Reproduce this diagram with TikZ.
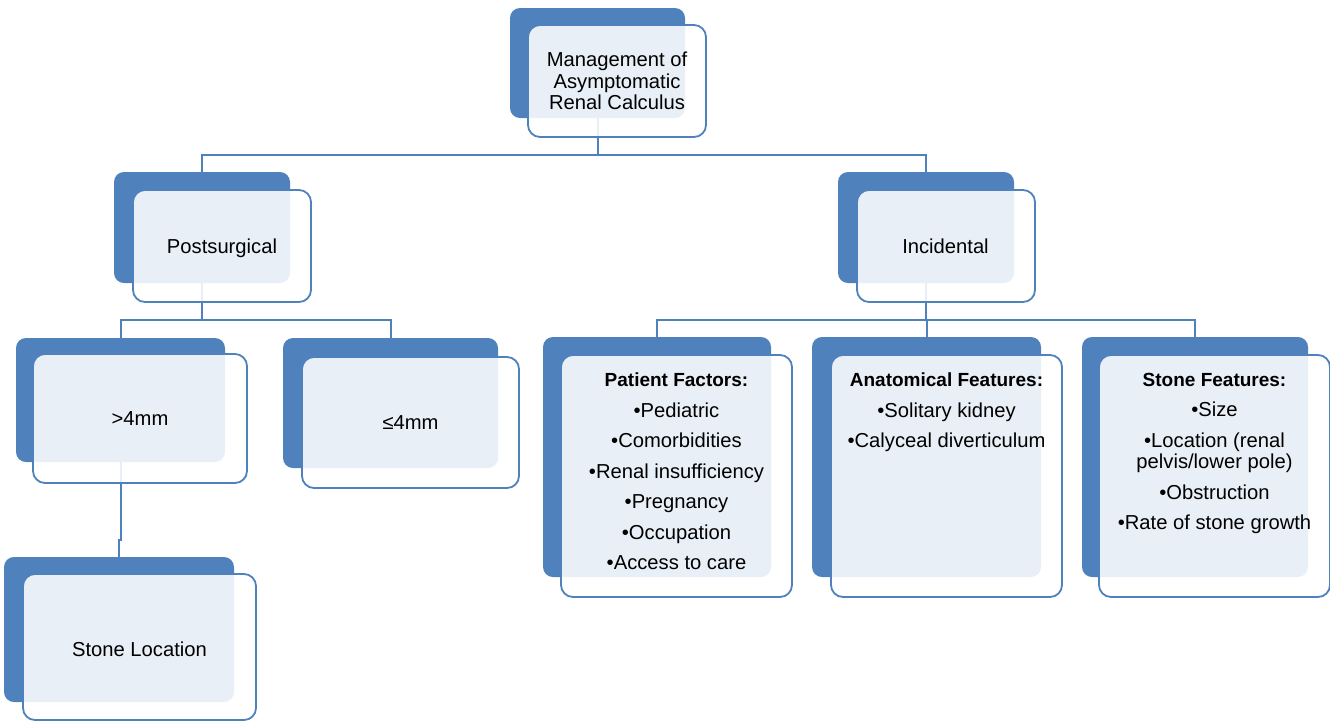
\documentclass[tikz,border=0pt]{standalone}
\usepackage{fontspec}
\setmainfont{Liberation Sans}
\usetikzlibrary{backgrounds}
\definecolor{blueC}{HTML}{4F81BD}
\newcommand\hd[1]{{\fontsize{19}{21.5}\selectfont\bfseries #1}}
\begin{document}
\begin{tikzpicture}[x=1pt,y=-1pt,
  back/.style={fill=blueC, rounded corners=10pt, inner sep=0pt, outer sep=0pt, anchor=north west},
  front/.style={draw=blueC, line width=1.8pt, fill=white, fill opacity=0.88, rounded corners=12pt, inner sep=0pt, outer sep=0pt, anchor=north west},
  conn/.style={draw=blueC, line width=2pt},
  lbl/.style={font=\fontsize{20.2}{21.5}\selectfont, text height=14.5pt, text depth=0pt, inner sep=0pt},
  multi/.style={font=\fontsize{20.2}{21.5}\selectfont, align=center, inner sep=0pt, anchor=north}]
\useasboundingbox (0,0) rectangle (1330,721);

% back boxes
\node[back, minimum width=175pt, minimum height=110pt] (tb) at (510,8) {};
\node[back, minimum width=176pt, minimum height=111pt] (pb) at (114,172) {};
\node[back, minimum width=176pt, minimum height=111pt] (ib) at (838,172) {};
\node[back, minimum width=209pt, minimum height=124pt] (gb1) at (16,338) {};
\node[back, minimum width=215pt, minimum height=130pt] (gb2) at (283,338) {};
\node[back, minimum width=230pt, minimum height=145pt] (sb) at (4,557) {};
\node[back, minimum width=228pt, minimum height=240pt] (ptb) at (543,337) {};
\node[back, minimum width=229pt, minimum height=240pt] (anb) at (812,337) {};
\node[back, minimum width=226pt, minimum height=240pt] (sfb) at (1082,337) {};

% front boxes
\node[front, minimum width=178pt, minimum height=112pt] (tf) at (528,25) {};
\node[front, minimum width=178pt, minimum height=112pt] (pf) at (133,190) {};
\node[front, minimum width=178pt, minimum height=112pt] (if) at (857,190) {};
\node[front, minimum width=214pt, minimum height=129pt] (gf1) at (33,354) {};
\node[front, minimum width=217pt, minimum height=131pt] (gf2) at (302,357) {};
\node[front, minimum width=233pt, minimum height=146pt] (sf) at (23,574) {};
\node[front, minimum width=231pt, minimum height=242pt] (ptf) at (561,355) {};
\node[front, minimum width=231pt, minimum height=242pt] (anf) at (831,355) {};
\node[front, minimum width=231pt, minimum height=242pt] (sff) at (1099,355) {};

% connectors
\begin{scope}[on background layer]
\draw[conn] (tb.south) -- ++(0,36.5) -| (pb.north);
\draw[conn] (tb.south) -- ++(0,36.5) -| (ib.north);
\draw[conn] (pb.south) -- ++(0,37) -| (gb1.north);
\draw[conn] (pb.south) -- ++(0,37) -| (gb2.north);
\draw[conn] (ib.south) -- ++(0,37) -| (ptb.north);
\draw[conn] (ib.south) -- ++(0,37) -| (anb.north);
\draw[conn] (ib.south) -- ++(0,37) -| (sfb.north);
\draw[conn] (gb1.south) -- ++(0,78) -| (sb.north);
\end{scope}

% texts
\node[multi, anchor=center] (tt) at (617,81) {Management of\\Asymptomatic\\Renal Calculus};
\node[lbl] (pt) at (222,246) {Postsurgical};
\node[lbl] (it) at (945.5,246) {Incidental};
\node[lbl] (gt1) at (140,418.5) {>4mm};
\node[lbl] (gt2) at (410.5,422.5) {≤4mm};
\node[lbl] (st) at (139.5,649) {Stone Location};
\node[multi] (ptt) at (676.5,373) {\hd{Patient Factors:}\\[9pt]•Pediatric\\[9pt]•Comorbidities\\[9pt]•Renal insufficiency\\[9pt]•Pregnancy\\[9pt]•Occupation\\[9pt]•Access to care};
\node[multi] (ant) at (946.5,373) {\hd{Anatomical Features:}\\[9pt]•Solitary kidney\\[9pt]•Calyceal diverticulum};
\node[multi] (sft) at (1214.5,373) {\hd{Stone Features:}\\[9pt]•Size\\[9pt]•Location (renal\\pelvis/lower pole)\\[9pt]•Obstruction\\[9pt]•Rate of stone growth};
\end{tikzpicture}
\end{document}
